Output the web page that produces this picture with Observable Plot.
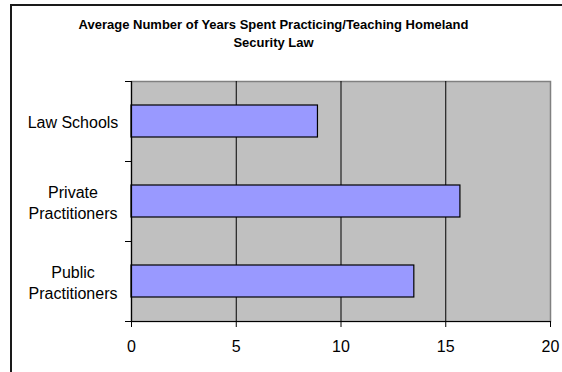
<!DOCTYPE html>
<html>
<head>
<meta charset="utf-8">
<script src="https://cdn.jsdelivr.net/npm/d3@7"></script>
<script src="https://cdn.jsdelivr.net/npm/@observablehq/plot@0.6"></script>
<style>
  html, body { margin: 0; padding: 0; background: #fff; overflow: hidden; }
  #wrap { position: relative; width: 562px; height: 372px; overflow: hidden; font-family: "Liberation Sans", Arial, sans-serif; }
  #border { position: absolute; left: 10px; top: 4px; width: 700px; height: 500px; border-left: 2px solid #1a1a1a; border-top: 2px solid #1a1a1a; }
  #title { position: absolute; left: 0; width: 547px; top: 16px; text-align: center; font-weight: bold; font-size: 13px; line-height: 18px; color: #000; }
  #chart { position: absolute; left: 0; top: 0; }
</style>
</head>
<body>
<div id="wrap">
  <div id="border"></div>
  <div id="chart"></div>
  <div id="title">Average Number of Years Spent Practicing/Teaching Homeland<br>Security Law</div>
</div>
<script>
const categories = ["Law Schools", "Private Practitioners", "Public Practitioners"];
const categoryLabels = ["Law Schools", "Private\nPractitioners", "Public\nPractitioners"];
const values = [8.9, 15.7, 13.5];
const xTicks = [0, 5, 10, 15, 20];

const data = categories.map((c, i) => ({cat: c, label: categoryLabels[i], value: values[i], i}));

const chart = Plot.plot({
  width: 562,
  height: 372,
  marginLeft: 131,
  marginRight: 12,
  marginTop: 81,
  marginBottom: 51,
  style: {fontFamily: "'Liberation Sans', Arial, sans-serif", fontSize: "16px", color: "#000", background: "transparent"},
  x: {domain: [0, 20], label: null},
  y: {domain: [0, 3], reverse: true, label: null},
  marks: [
    Plot.frame({fill: "#c0c0c0", stroke: "#808080", strokeWidth: 1.5}),
    Plot.ruleX([5, 10, 15], {stroke: "#000", strokeWidth: 1}),
    Plot.rectX(data, {y1: d => d.i + 0.3, y2: d => d.i + 0.7, x1: 0, x2: "value", fill: "#9999ff", stroke: "#000", strokeWidth: 1.2}),
    Plot.ruleX([0], {stroke: "#000", strokeWidth: 1.2}),
    Plot.ruleY([3], {stroke: "#000", strokeWidth: 1.2}),
    Plot.axisX({ticks: xTicks, tickSize: 6, tickPadding: 13, fontSize: 16, label: null, tickFormat: d => String(d)}),
    Plot.axisY({ticks: [0, 1, 2, 3], tickSize: 6, label: null, tickFormat: () => ""}),
    Plot.text(data, {y: d => d.i + 0.5, text: "label", frameAnchor: "left", dx: -58.5, textAnchor: "middle", lineHeight: 1.35, fontSize: 16, fill: "#000"})
  ]
});
document.getElementById("chart").appendChild(chart);
</script>
</body>
</html>
